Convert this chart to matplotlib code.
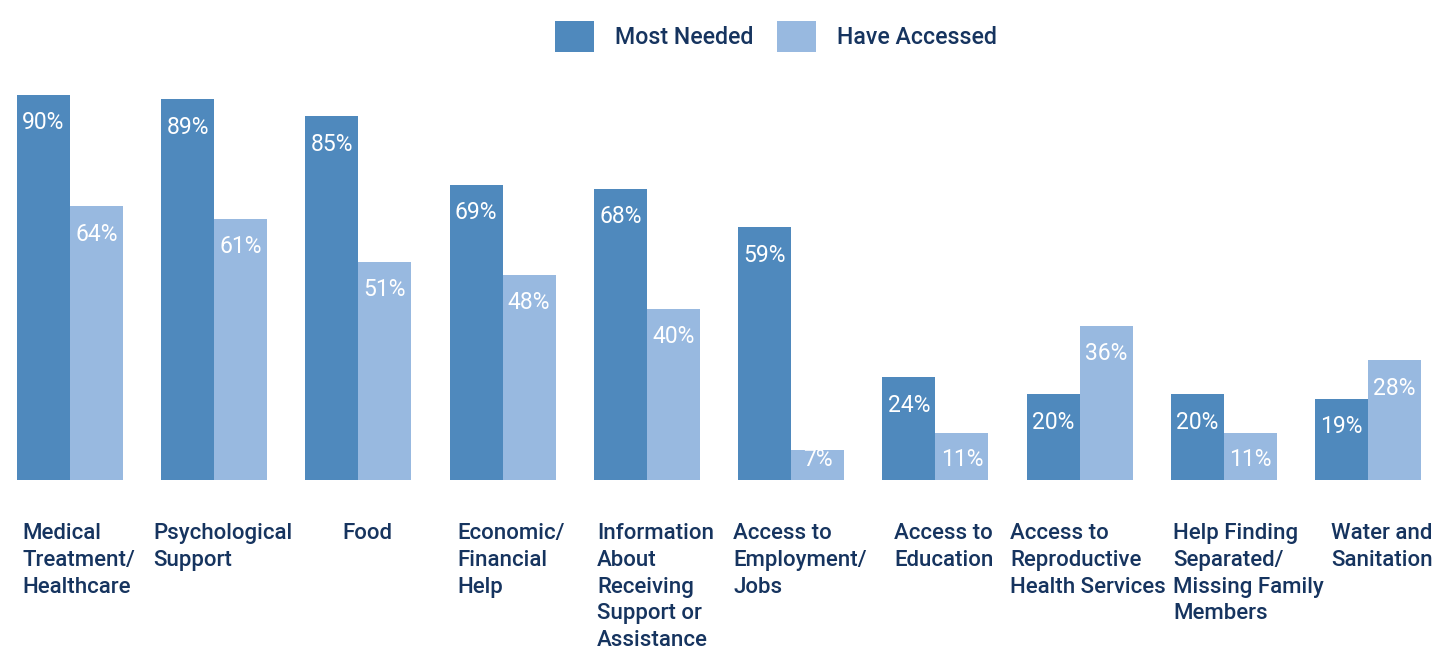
import numpy as np
import matplotlib
matplotlib.use("Agg")
import matplotlib.pyplot as plt

plt.rcParams['font.family'] = ['Roboto', 'DejaVu Sans']

categories = [
    "Medical\nTreatment/\nHealthcare",
    "Psychological\nSupport",
    "Food",
    "Economic/\nFinancial\nHelp",
    "Information\nAbout\nReceiving\nSupport or\nAssistance",
    "Access to\nEmployment/\nJobs",
    "Access to\nEducation",
    "Access to\nReproductive\nHealth Services",
    "Help Finding\nSeparated/\nMissing Family\nMembers",
    "Water and\nSanitation",
]
most_needed = [90, 89, 85, 69, 68, 59, 24, 20, 20, 19]
have_accessed = [64, 61, 51, 48, 40, 7, 11, 36, 11, 28]

dark = '#4F89BD'
light = '#98B9E0'
navy = '#16345F'

fig = plt.figure(figsize=(14.45, 6.5), dpi=100)
ax_h = 428 / 650
ax = fig.add_axes([17 / 1445, 170 / 650, 1404 / 1445, ax_h])

x = np.arange(len(categories))
w = 0.367
b1 = ax.bar(x - w / 2, most_needed, w, color=dark, label='Most Needed')
b2 = ax.bar(x + w / 2, have_accessed, w, color=light, label='Have Accessed')

ax.set_xlim(-w, len(categories) - 1 + w)
ax.set_ylim(0, 100)
ax.axis('off')

px_per_unit = ax_h * 650 / 100  # pixels per percentage point
for bars, vals in ((b1, most_needed), (b2, have_accessed)):
    for rect, v in zip(bars, vals):
        # label sits near the top, but stays inside short bars
        off_px = min(28, v * px_per_unit - 20)
        ax.annotate(f"{v}%", (rect.get_x() + rect.get_width() / 2, v),
                    xytext=(0, -off_px * 0.72), textcoords='offset points',
                    ha='center', va='center', color='white', fontsize=16.5)

cat_labels = []
for xi, lab in zip(x, categories):
    t = ax.annotate(lab, (xi + 0.06, 0), xycoords=('data', 'axes fraction'),
                    xytext=(0, -31), textcoords='offset points',
                    ha='center', va='top', multialignment='left',
                    color=navy, fontsize=16, fontweight='medium', linespacing=1.36,
                    annotation_clip=False)
    cat_labels.append(t)

# push labels right when they would run into the previous one
fig.canvas.draw()
renderer = fig.canvas.get_renderer()
prev_right = -1e9
for t in cat_labels:
    bb = t.get_window_extent(renderer)
    shift = max(0, prev_right + 7 - bb.x0)
    if shift > 0:
        t.xyann = (shift * 0.72, t.xyann[1])
    prev_right = bb.x1 + shift

leg = fig.legend(handles=[b1, b2], loc='upper center', bbox_to_anchor=(0.537, 1.0),
                 ncol=2, frameon=False, fontsize=16.7, handlelength=1.68, handleheight=1.68,
                 handletextpad=0.9, columnspacing=1.0, borderaxespad=0.5)
for t in leg.get_texts():
    t.set_color(navy)
    t.set_fontweight('medium')

fig.savefig('out.png', dpi=100, facecolor='white')
